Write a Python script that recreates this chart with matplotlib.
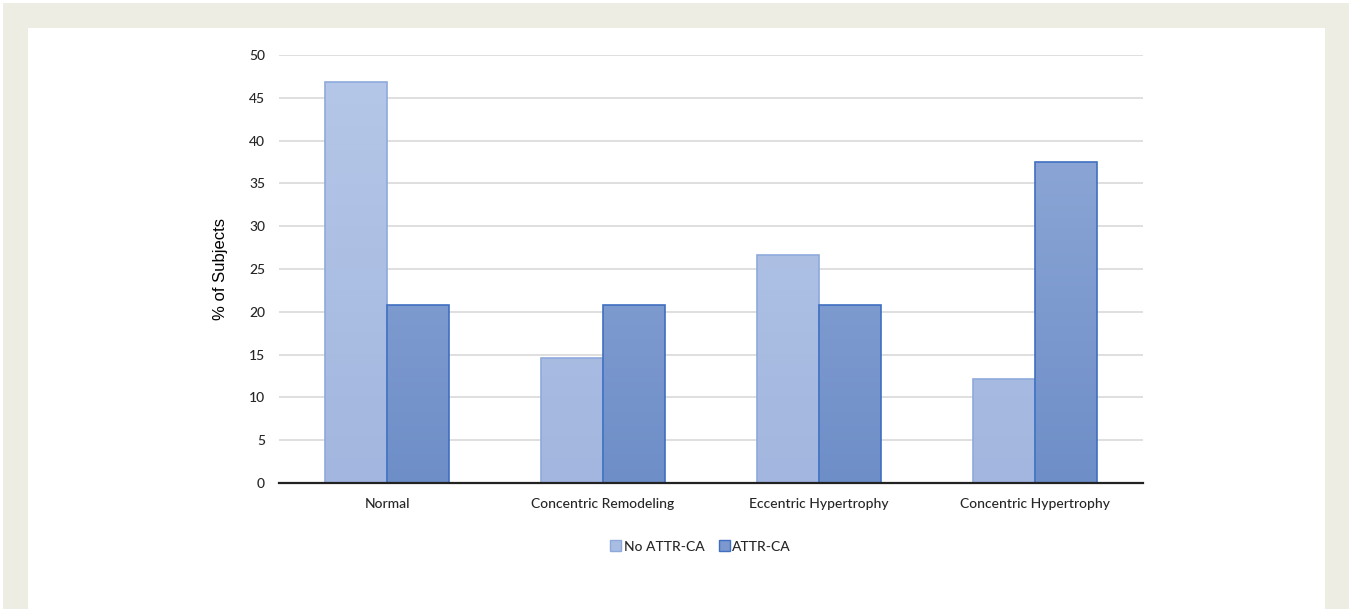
import numpy as np
import matplotlib.pyplot as plt
from matplotlib.patches import Rectangle
from matplotlib.colors import LinearSegmentedColormap

categories = ['Normal', 'Concentric Remodeling', 'Eccentric Hypertrophy', 'Concentric Hypertrophy']
no_attr = [46.8, 14.6, 26.6, 12.1]
attr = [20.8, 20.8, 20.8, 37.5]
series_names = ['No ATTR-CA', 'ATTR-CA']

W, H = 1349, 609
fig = plt.figure(figsize=(W / 100, H / 100), dpi=100)
fig.patch.set_facecolor('white')

# beige frame with white card inside
fig.add_artist(Rectangle((3 / W, 0), (W - 3) / W, (H - 3) / H, transform=fig.transFigure,
                         facecolor='#eeede3', edgecolor='none', zorder=-10))
fig.add_artist(Rectangle((28 / W, 0), (1325 - 28) / W, (H - 28) / H, transform=fig.transFigure,
                         facecolor='white', edgecolor='none', zorder=-9))

ax = fig.add_axes([279 / W, 1 - 483 / H, (1143 - 279) / W, (483 - 55) / H])
ax.set_facecolor('none')

x = np.arange(len(categories))
bw = 0.287
b1 = ax.bar(x - bw / 2, no_attr, bw, facecolor='none', edgecolor='#8eaadb', linewidth=1.2, zorder=3,
            label=series_names[0])
b2 = ax.bar(x + bw / 2, attr, bw, facecolor='none', edgecolor='#3f6fc0', linewidth=1.2, zorder=3,
            label=series_names[1])

# vertical gradient fill clipped to each bar
cm1 = LinearSegmentedColormap.from_list('g1', ['#a2b6df', '#b6c8e8'])
cm2 = LinearSegmentedColormap.from_list('g2', ['#6e8ec8', '#93acd9'])
grad = np.linspace(0, 1, 256).reshape(-1, 1)
for bars, cm in ((b1, cm1), (b2, cm2)):
    for p in bars:
        x0 = p.get_x()
        im = ax.imshow(grad, cmap=cm, origin='lower', aspect='auto',
                       extent=(x0, x0 + p.get_width(), 0, 50), zorder=2)
        im.set_clip_path(p)

ax.set_xlim(-0.5, len(categories) - 0.5)
ax.set_ylim(0, 50)
ax.set_yticks(range(0, 51, 5))
ax.set_xticks(x)
ax.set_xticklabels(categories)
ax.grid(axis='y', color='#d9d9d9', linewidth=1.2, zorder=0)
for s in ('top', 'right', 'left'):
    ax.spines[s].set_visible(False)
ax.spines['bottom'].set_color('#222222')
ax.spines['bottom'].set_linewidth(1.6)
ax.spines['bottom'].set_zorder(4)
ax.tick_params(axis='both', length=0, labelsize=10, colors='#262626')
ax.tick_params(axis='y', pad=10)
ax.tick_params(axis='x', pad=11)
for t in ax.get_xticklabels() + ax.get_yticklabels():
    t.set_family('Lato')
    t.set_fontweight('medium')
ax.set_ylabel('% of Subjects', fontsize=12, family='Liberation Sans', color='black', labelpad=15)

h1 = Rectangle((0, 0), 1, 1, facecolor='#a9bde3', edgecolor='#8eaadb')
h2 = Rectangle((0, 0), 1, 1, facecolor='#7b98cf', edgecolor='#3f6fc0')
leg = ax.legend([h1, h2], series_names, loc='upper center', bbox_to_anchor=(0.488, -0.105),
                ncol=2, frameon=False, handlelength=0.8, handleheight=0.8, handletextpad=0.2,
                columnspacing=1.0, prop={'family': 'Lato', 'size': 10, 'weight': 'medium'})
for t in leg.get_texts():
    t.set_color('#262626')

fig.savefig('out.png', dpi=100)
